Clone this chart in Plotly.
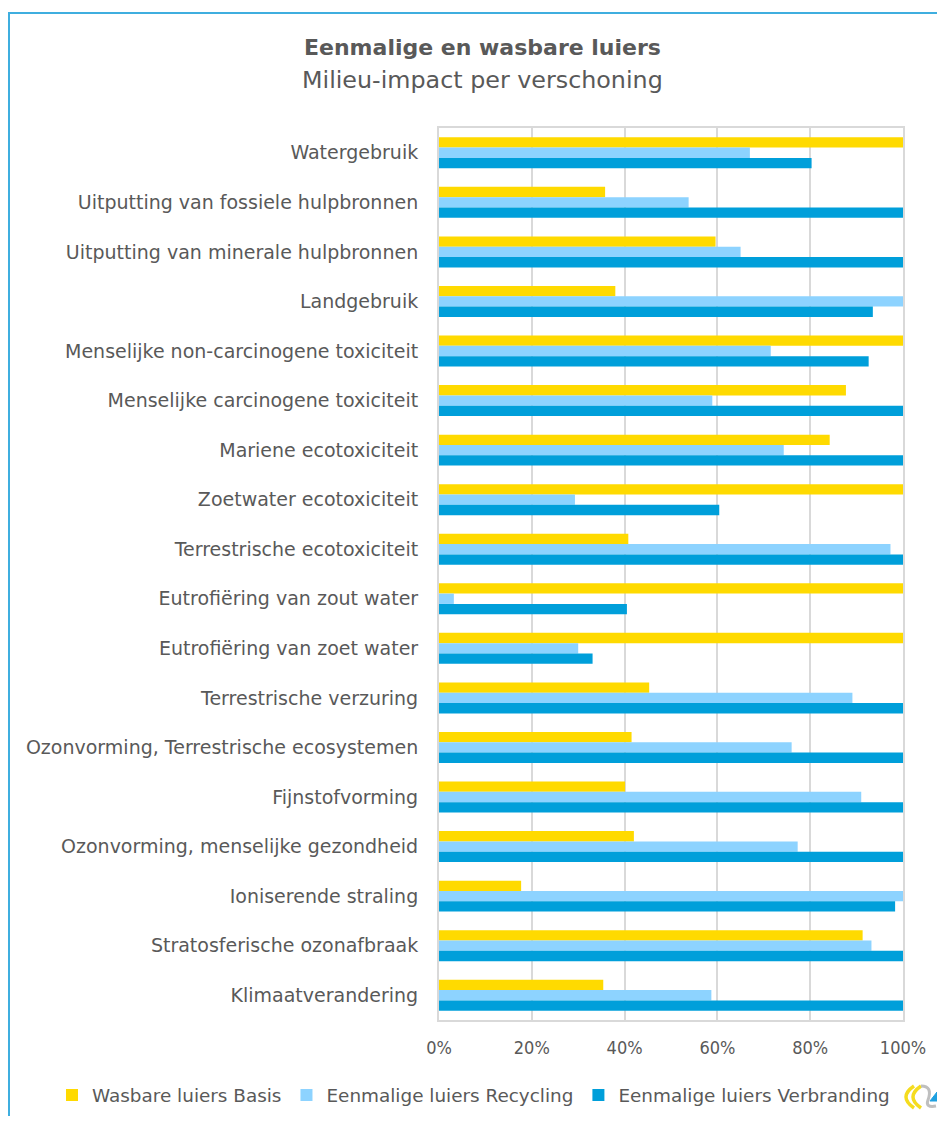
import plotly.graph_objects as go

categories = [
    "Watergebruik",
    "Uitputting van fossiele hulpbronnen",
    "Uitputting van minerale hulpbronnen",
    "Landgebruik",
    "Menselijke non-carcinogene toxiciteit",
    "Menselijke carcinogene toxiciteit",
    "Mariene ecotoxiciteit",
    "Zoetwater ecotoxiciteit",
    "Terrestrische ecotoxiciteit",
    "Eutrofiëring van zout water",
    "Eutrofiëring van zoet water",
    "Terrestrische verzuring",
    "Ozonvorming, Terrestrische ecosystemen",
    "Fijnstofvorming",
    "Ozonvorming, menselijke gezondheid",
    "Ioniserende straling",
    "Stratosferische ozonafbraak",
    "Klimaatverandering",
]

wasbaar_basis = [1.000, 0.358, 0.596, 0.380, 1.000, 0.877, 0.842, 1.000, 0.408,
                 1.000, 1.000, 0.453, 0.415, 0.401, 0.420, 0.177, 0.913, 0.354]
eenmalig_recycling = [0.670, 0.538, 0.650, 1.000, 0.715, 0.589, 0.743, 0.293, 0.973,
                      0.032, 0.300, 0.891, 0.760, 0.910, 0.773, 1.000, 0.932, 0.587]
eenmalig_verbranding = [0.803, 1.000, 1.000, 0.935, 0.926, 1.000, 1.000, 0.604, 1.000,
                        0.405, 0.331, 1.000, 1.000, 1.000, 1.000, 0.983, 1.000, 1.000]

series_names = ["Wasbare luiers Basis", "Eenmalige luiers Recycling", "Eenmalige luiers Verbranding"]
series_colors = ["#FFDA00", "#8DD3FF", "#009FDA"]
tick_vals = [0, 0.2, 0.4, 0.6, 0.8, 1.0]
tick_text = ["0%", "20%", "40%", "60%", "80%", "100%"]

FONT = "DejaVu Sans, sans-serif"
FONT_COND = "DejaVu Sans Condensed, DejaVu Sans, sans-serif"
GRAY = "#595959"

fig = go.Figure()
for name, vals, col in zip(series_names, [wasbaar_basis, eenmalig_recycling, eenmalig_verbranding], series_colors):
    fig.add_trace(go.Bar(
        y=categories, x=vals, name=name, orientation="h",
        marker=dict(color=col, line=dict(width=0)),
    ))

# page body has an 8px margin; figure coordinates = page coordinates - 8
OFF = 8
W, H = 945 - 2 * OFF, 1124 - 2 * OFF
ml = 439 - OFF
mt = 128 - OFF
mr = W - (903 - OFF)
mb = H - (1020 - OFF)
pw, ph = W - ml - mr, H - mt - mb

def px(x):
    return (x - OFF - ml) / pw

def py(y):
    return (H - mb - (y - OFF)) / ph

fig.update_layout(
    width=W, height=H,
    margin=dict(l=ml, r=mr, t=mt, b=mb, autoexpand=False),
    paper_bgcolor="white", plot_bgcolor="white",
    barmode="group", bargap=0.375, bargroupgap=0,
    font=dict(family=FONT, color=GRAY, size=19),
    showlegend=True,
    legend=dict(orientation="h", x=px(52), xanchor="left", y=py(1095), yanchor="middle",
                font=dict(size=18.4, color=GRAY), traceorder="normal", itemwidth=30,
                bgcolor="rgba(0,0,0,0)"),
    xaxis=dict(range=[0, 1], tickvals=tick_vals, ticktext=tick_text,
               showgrid=True, gridcolor="#D9D9D9", gridwidth=2, zeroline=False,
               showline=True, linecolor="#D9D9D9", linewidth=2, mirror=True,
               ticks="outside", ticklen=10, tickcolor="rgba(0,0,0,0)",
               tickfont=dict(size=18, color=GRAY, family=FONT_COND)),
    yaxis=dict(autorange="reversed", showgrid=False, zeroline=False,
               showline=True, linecolor="#D9D9D9", linewidth=2, mirror=True,
               ticks="outside", ticklen=15, tickcolor="rgba(0,0,0,0)",
               tickfont=dict(size=19, color=GRAY)),
)

fig.add_annotation(text="<b>Eenmalige en wasbare luiers</b>", xref="paper", yref="paper",
                   x=px(482), y=py(48), xanchor="center", yanchor="middle", showarrow=False,
                   font=dict(size=22, color=GRAY, family=FONT))
fig.add_annotation(text="Milieu-impact per verschoning", xref="paper", yref="paper",
                   x=px(482), y=py(80), xanchor="center", yanchor="middle", showarrow=False,
                   font=dict(size=23.8, color=GRAY, family=FONT))

# outer chart frame (blue)
fig.add_shape(type="rect", xref="paper", yref="paper",
              x0=px(OFF + 1), x1=px(970), y0=py(1160), y1=py(13),
              line=dict(color="#3FAEDF", width=2), fillcolor="rgba(0,0,0,0)", layer="below")

# small decorative logo next to the legend
def path(cmds):
    out = []
    for c in cmds:
        if isinstance(c, str):
            out.append(c)
        else:
            out.append(f"{px(c[0]):.5f},{py(c[1]):.5f}")
    return " ".join(out)

fig.add_shape(type="path", xref="paper", yref="paper",
              path=path(["M", (914, 1086), "Q", (898, 1097), (914, 1108)]),
              line=dict(color="#F5DC1E", width=3.5))
fig.add_shape(type="path", xref="paper", yref="paper",
              path=path(["M", (921, 1086), "Q", (905, 1097), (921, 1108)]),
              line=dict(color="#F5DC1E", width=3.5))
fig.add_shape(type="path", xref="paper", yref="paper",
              path=path(["M", (921, 1086), "Q", (933, 1086), (928, 1100), "Q", (925, 1108), (936, 1106)]),
              line=dict(color="#BFBFBF", width=3))
fig.add_shape(type="path", xref="paper", yref="paper",
              path=path(["M", (930, 1101), "L", (937, 1092), "L", (937, 1101), "Z"]),
              line=dict(color="#1EA0E0", width=1), fillcolor="#1EA0E0")

fig.write_html("out.html")
